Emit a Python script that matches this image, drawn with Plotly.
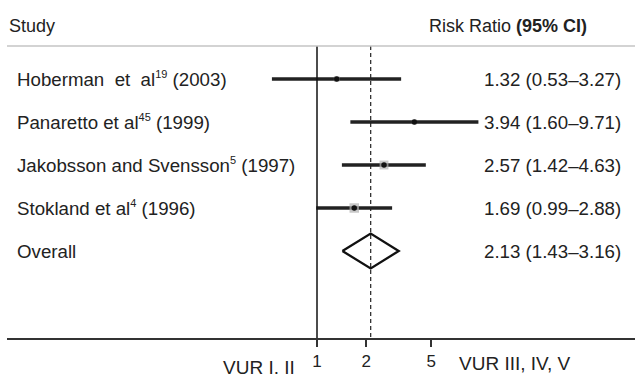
import math
import plotly.graph_objects as go

# ---- data ----
def sup(s):
    return f"<sup><span style='font-size:11px'>{s}</span></sup>"

studies = [
    "Hoberman  et  al" + sup("19") + " (2003)",
    "Panaretto et al" + sup("45") + " (1999)",
    "Jakobsson and Svensson" + sup("5") + " (1997)",
    "Stokland et al" + sup("4") + " (1996)",
]
rr = [1.32, 3.94, 2.57, 1.69]
lo = [0.53, 1.60, 1.42, 0.99]
hi = [3.27, 9.71, 4.63, 2.88]
weights = [14, 11, 35, 40]
overall_label = "Overall"
overall = [2.13, 1.43, 3.16]  # estimate, lower, upper
tick_vals = [1, 2, 5]
tick_text = ["1", "2", "5"]
left_label = "VUR I. II"
right_label = "VUR III, IV, V"

# ---- layout geometry (pixels) ----
W, H = 635, 375
ML, MR, MT, MB = 7, 0, 0, 37
PW, PH = W - ML - MR, H - MT - MB
X1PIX = 317          # pixel of RR = 1
PPD = 163.5          # pixels per decade
ROW0, ROWSTEP = 79, 43
xr = [(ML - X1PIX) / PPD, (W - MR - X1PIX) / PPD]
def ypix(p):
    return (p - ROW0) / ROWSTEP
yr = [ypix(MT + PH), ypix(MT)]
yhead = ypix(46)
ybot = ypix(MT + PH)
def xpaper(p):
    return (p - ML) / PW
def ypaper(p):
    return (MT + PH - p) / PH

FONT = "Liberation Sans, Arial, sans-serif"
DARK = "#222222"
ROWFONT = 18.7

fig = go.Figure()
rows = list(range(len(studies)))

# CI lines
for i in rows:
    fig.add_trace(go.Scatter(x=[lo[i], hi[i]], y=[i, i], mode="lines",
                             line=dict(color=DARK, width=3.3), hoverinfo="skip",
                             showlegend=False))
# null line
fig.add_trace(go.Scatter(x=[1, 1], y=[yhead, ybot], mode="lines",
                         line=dict(color="#111111", width=1.5), showlegend=False))
# overall dashed line
fig.add_trace(go.Scatter(x=[overall[0], overall[0]], y=[yhead, ybot], mode="lines",
                         line=dict(color=DARK, width=1.2, dash="4px,3px"), showlegend=False))
# weight squares
fig.add_trace(go.Scatter(x=rr, y=rows, mode="markers",
                         marker=dict(symbol="square", color="#b0b0b0",
                                     size=[1.5 * math.sqrt(w) for w in weights],
                                     line=dict(width=0)),
                         showlegend=False))
# point estimates
fig.add_trace(go.Scatter(x=rr, y=rows, mode="markers",
                         marker=dict(symbol="circle", color="#111111", size=5.5),
                         showlegend=False))
# overall diamond
yo = len(studies)
dh = 17.5 / ROWSTEP
fig.add_trace(go.Scatter(x=[overall[1], overall[0], overall[2], overall[0], overall[1]],
                         y=[yo, yo - dh, yo, yo + dh, yo], mode="lines",
                         line=dict(color="#111111", width=2.3), showlegend=False))

ann = []
labels = studies + [overall_label]
ests = [(rr[i], lo[i], hi[i]) for i in rows] + [tuple(overall)]
for i, (lab, e) in enumerate(zip(labels, ests)):
    ann.append(dict(x=xpaper(15), y=i, xref="paper", yref="y", text=lab,
                    showarrow=False, xanchor="left", yanchor="middle",
                    font=dict(size=ROWFONT, color=DARK, family=FONT)))
    ann.append(dict(x=xpaper(623), y=i, xref="paper", yref="y",
                    text=f"{e[0]:.2f} ({e[1]:.2f}\u2013{e[2]:.2f})",
                    showarrow=False, xanchor="right", yanchor="middle",
                    font=dict(size=ROWFONT, color=DARK, family=FONT)))
ann.append(dict(x=xpaper(7), y=ypix(26), xref="paper", yref="y", text="Study",
                showarrow=False, xanchor="left", yanchor="middle",
                font=dict(size=18, color=DARK, family=FONT)))
ann.append(dict(x=xpaper(589), y=ypix(26), xref="paper", yref="y",
                text="Risk Ratio <b>(95% CI)</b>",
                showarrow=False, xanchor="right", yanchor="middle",
                font=dict(size=18, color=DARK, family=FONT)))
ann.append(dict(x=xpaper(221), y=ypaper(367), xref="paper", yref="paper", text=left_label,
                showarrow=False, xanchor="left", yanchor="middle",
                font=dict(size=19, color=DARK, family=FONT)))
ann.append(dict(x=xpaper(457), y=ypaper(363), xref="paper", yref="paper", text=right_label,
                showarrow=False, xanchor="left", yanchor="middle",
                font=dict(size=19, color=DARK, family=FONT)))

fig.update_layout(
    width=W, height=H,
    margin=dict(l=ML, r=MR, t=MT, b=MB, pad=0),
    paper_bgcolor="white", plot_bgcolor="white",
    annotations=ann,
    shapes=[dict(type="line", xref="paper", yref="y", x0=0, x1=1, y0=yhead, y1=yhead,
                 line=dict(color="#c4c4c4", width=1.5))],
    xaxis=dict(type="log", range=xr, showgrid=False, zeroline=False,
               showline=True, linecolor="#333333", linewidth=2,
               ticks="outside", ticklen=7, tickwidth=2, tickcolor="#333333",
               tickvals=tick_vals, ticktext=tick_text, ticklabelstandoff=0,
               tickfont=dict(size=17, color=DARK, family=FONT)),
    yaxis=dict(range=yr, visible=False),
)
fig.write_html("out.html")
